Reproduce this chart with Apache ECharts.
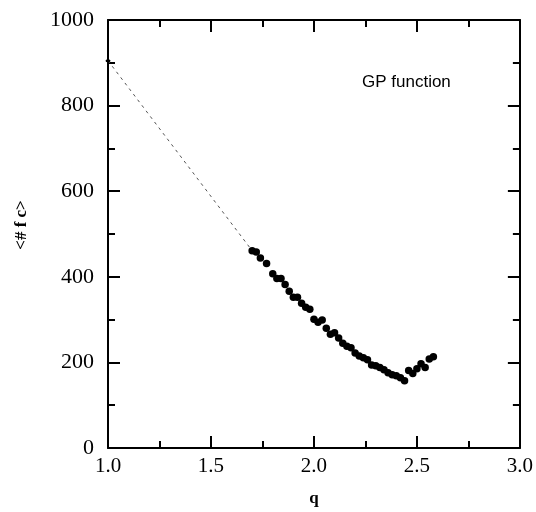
<!DOCTYPE html>
<html>
<head>
<meta charset="utf-8">
<script src="https://cdn.jsdelivr.net/npm/echarts@6/dist/echarts.min.js"></script>
<style>html,body{margin:0;padding:0;background:#fff}#c{width:536px;height:512px}</style>
</head>
<body>
<div id="c"></div>
<script>
// start point of the dashed curve
var startQ = [1.0];
var startV = [905];
// measured points
var qVals = [1.70,1.72,1.74,1.77,1.80,1.82,1.84,1.86,1.88,1.90,1.92,1.94,1.96,1.98,2.00,2.02,2.04,2.06,2.08,2.10,2.12,2.14,2.16,2.18,2.20,2.22,2.24,2.26,2.28,2.30,2.32,2.34,2.36,2.38,2.40,2.42,2.44,2.46,2.48,2.50,2.52,2.54,2.56,2.58];
var fcVals = [461,458,444,431,407,396,396,382,366,352,352,338,329,324,301,294,299,280,266,269,257,245,238,234,222,215,211,206,194,192,188,183,176,171,169,164,157,181,174,185,197,188,208,213];
var xTicks = ['1.0','1.5','2.0','2.5','3.0'];
var yTicks = [0,200,400,600,800,1000];

var pts = qVals.map(function(q,i){return [q, fcVals[i]];});
var lineStart = [[startQ[0], startV[0]], pts[0]];

var chart = echarts.init(document.getElementById('c'), null, {renderer:'canvas'});
var serif = '"Liberation Serif", "Times New Roman", serif';
var axisCommon = {
  axisLine:{show:true, onZero:false, lineStyle:{color:'#000', width:2}},
  axisTick:{show:true, inside:true, length:12, lineStyle:{color:'#000', width:2}},
  minorTick:{show:true, splitNumber:2, length:7, lineStyle:{color:'#000', width:2}},
  splitLine:{show:false}
};
chart.setOption({
  backgroundColor:'#fff',
  animation:false,
  grid:{left:108, right:16, top:20, bottom:60},
  xAxis:[
    Object.assign({type:'value', min:1, max:3, interval:0.5, position:'bottom',
      name:'q', nameLocation:'middle', nameGap:42,
      nameTextStyle:{fontFamily:serif, fontSize:17, fontWeight:'bold', color:'#000'},
      axisLabel:{fontFamily:serif, fontSize:21, color:'#000', margin:8,
        formatter:function(v){var i=Math.round((v-1)/0.5); return xTicks[i]||'';}}}, axisCommon),
    Object.assign({type:'value', min:1, max:3, interval:0.5, position:'top', axisLabel:{show:false}}, axisCommon)
  ],
  yAxis:[
    Object.assign({type:'value', min:0, max:1000, interval:200, position:'left',
      axisLabel:{fontFamily:serif, fontSize:22, color:'#000', margin:14,
        formatter:function(v){var i=Math.round(v/200); return String(yTicks[i]);}}}, axisCommon),
    Object.assign({type:'value', min:0, max:1000, interval:200, position:'right', axisLabel:{show:false}}, axisCommon)
  ],
  series:[
    {type:'line', data:lineStart, symbol:'circle', symbolSize:[5,3], showSymbol:true,
     itemStyle:{color:'#000'},
     lineStyle:{color:'#555', width:1, type:[3,4]}, silent:true, z:1},
    {type:'scatter', data:pts, symbol:'circle', symbolSize:7.5, itemStyle:{color:'#000', opacity:1}, z:3}
  ],
  graphic:[
    {type:'text', left:362, top:74, style:{text:'GP function', font:'17px "Liberation Sans", Arial, sans-serif', fill:'#000'}},
    {type:'text', x:22, y:225, rotation:Math.PI/2,
     style:{text:'<# f c>', font:'bold 17px "Liberation Serif", "Times New Roman", serif', fill:'#000', align:'center', verticalAlign:'middle'}}
  ]
});
</script>
</body>
</html>
